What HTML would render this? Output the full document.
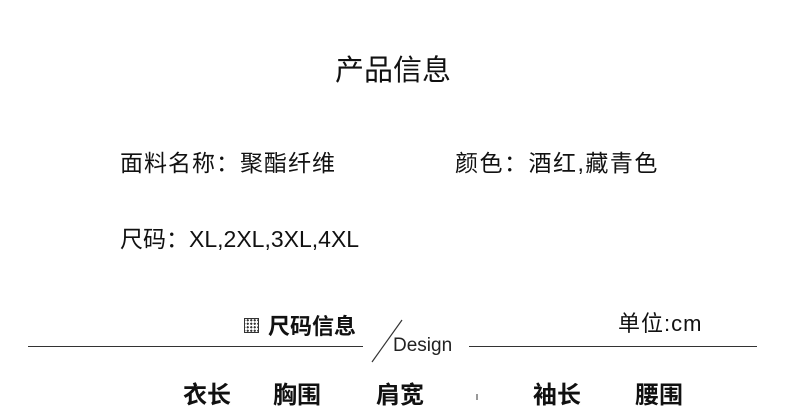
<!DOCTYPE html>
<html><head><meta charset="utf-8"><style>
body{margin:0;width:790px;height:400px;overflow:hidden;background:#fff;position:relative;font-family:"Liberation Sans","Noto Sans CJK SC",sans-serif;color:#111}
.a{position:absolute;white-space:nowrap;line-height:1}
.h{font-weight:bold;font-size:24px;top:384px}
</style></head><body>
<div class="a" style="left:335px;top:57px;font-size:29px">产品信息</div>
<div class="a" style="left:120px;top:152px;font-size:23px;letter-spacing:1px">面料名称：聚酯纤维</div>
<div class="a" style="left:455px;top:152px;font-size:23px;letter-spacing:1.5px">颜色：酒红,藏青色</div>
<div class="a" style="left:120px;top:228px;font-size:23px">尺码：XL,2XL,3XL,4XL</div>
<div class="a" style="left:244px;top:318px;width:15px;height:15px;border:1.5px solid #333;box-sizing:border-box;background:radial-gradient(circle,#333 1px,transparent 1.2px) 1px 3px/3.5px 3.5px"></div>
<div class="a" style="left:268px;top:316px;font-size:22px;font-weight:bold">尺码信息</div>
<div class="a" style="left:618px;top:313px;font-size:22px;letter-spacing:1px">单位:cm</div>
<div class="a" style="left:393px;top:336px;font-size:19px;color:#222">Design</div>
<div class="a" style="left:28px;top:346px;width:335px;height:1px;background:#333"></div>
<div class="a" style="left:469px;top:346px;width:288px;height:1px;background:#333"></div>
<svg class="a" style="left:0;top:0" width="790" height="400"><line x1="402" y1="320" x2="372" y2="362" stroke="#333" stroke-width="1.2"/><line x1="477" y1="394" x2="477" y2="400" stroke="#333"/></svg>
<div class="a h" style="left:183px">衣长</div>
<div class="a h" style="left:273px">胸围</div>
<div class="a h" style="left:376px">肩宽</div>
<div class="a h" style="left:533px">袖长</div>
<div class="a h" style="left:635px">腰围</div>
</body></html>
